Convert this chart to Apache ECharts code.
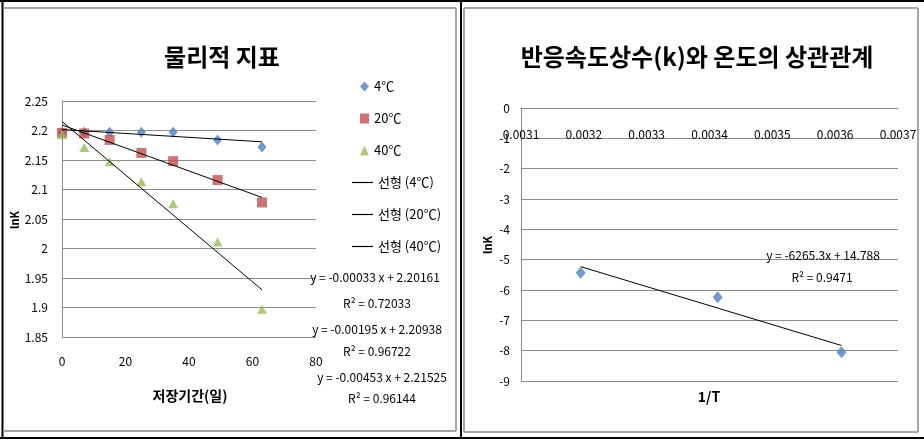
<!DOCTYPE html>
<html><head><meta charset="utf-8">
<script src="https://cdn.jsdelivr.net/npm/echarts@6/dist/echarts.min.js"></script>
<style>html,body{margin:0;padding:0;background:#fff}#c{width:924px;height:443px}</style>
</head><body><div id="c"></div>
<script>
// ---- Left chart data ----
const days = [0, 7, 15, 25, 35, 49, 63];
const lnK4 = [2.197, 2.197, 2.197, 2.197, 2.197, 2.184, 2.172];
const lnK20 = [2.196, 2.195, 2.184, 2.162, 2.148, 2.116, 2.078];
const lnK40 = [2.193, 2.171, 2.147, 2.113, 2.076, 2.011, 1.897];
const trendX = [0, 63];
const trend4 = [2.2016, 2.1808];
const trend20 = [2.2094, 2.0865];
const trend40 = [2.2153, 1.9299];
const leftYTicks = [1.85, 2.25, 0.05];
const leftXTicks = [0, 80, 20];
const markerNames = ['4℃', '20℃', '40℃'];
const trendNames = ['선형 (4℃)', '선형 (20℃)', '선형 (40℃)'];
const eqLeft = ['y = -0.00033 x + 2.20161', 'R² = 0.72033', 'y = -0.00195 x + 2.20938', 'R² = 0.96722', 'y = -0.00453 x + 2.21525', 'R² = 0.96144'];
// ---- Right chart data ----
const invT = [0.003195, 0.003413, 0.003610];
const lnK = [-5.43, -6.24, -8.05];
const trendRX = [0.003195, 0.003610];
const trendRY = [-5.23, -7.83];
const rightXTicks = [0.0031, 0.0037, 0.0001];
const rightYTicks = [-9, 0, 1];
const eqRight = ['y = -6265.3x + 14.788', 'R² = 0.9471'];

const FONT = '"Noto Sans CJK KR","Noto Sans",sans-serif';
const GRID = '#8c8c8c';
const zip = (xs, ys) => xs.map((x, i) => [x, ys[i]]);

const chart = echarts.init(document.getElementById('c'));
const txt = (x, y, s, o) => ({type: 'text', x: x, y: y, z: 20, style: Object.assign({text: s, font: '12px ' + FONT, fill: '#000', align: 'center', verticalAlign: 'middle'}, o || {})});
const ln = (x1, y1, x2, y2, c, w) => ({type: 'line', shape: {x1, y1, x2, y2}, style: {stroke: c, lineWidth: w}, z: 10});

const graphics = [
  // frames
  ln(0, 1, 924, 1, '#000', 2),
  ln(0, 438, 924, 438, '#000', 2),
  ln(2.5, 0, 2.5, 439, '#000', 2),
  ln(461, 0, 461, 439, '#000', 2),
  ln(3, 8, 456, 8, '#a6a6a6', 2),
  ln(456, 8, 456, 431, '#a6a6a6', 2),
  ln(3, 431, 456, 431, '#a6a6a6', 2),
  ln(464, 8, 918, 8, '#a6a6a6', 2),
  ln(464, 8, 464, 432, '#a6a6a6', 2),
  ln(464, 432, 918, 432, '#a6a6a6', 2),
  ln(918, 8, 918, 432, '#a6a6a6', 2),
  // titles
  txt(222, 57, '물리적 지표', {font: 'bold 24px ' + FONT}),
  txt(697, 57, '반응속도상수(k)와 온도의 상관관계', {font: 'bold 24px ' + FONT}),
  // axis names
  txt(190, 396, '저장기간(일)', {font: 'bold 14px ' + FONT}),
  Object.assign(txt(0, 0, 'lnK', {font: 'bold 11px ' + FONT}), {x: 15, y: 220, rotation: Math.PI / 2}),
  txt(709, 397, '1/T', {font: 'bold 14px ' + FONT}),
  Object.assign(txt(0, 0, 'lnK', {font: 'bold 11px ' + FONT}), {x: 488, y: 245, rotation: Math.PI / 2}),
  // equations
  txt(375, 277, eqLeft[0]),
  txt(377, 303, eqLeft[1]),
  txt(377, 329, eqLeft[2]),
  txt(377, 351, eqLeft[3]),
  txt(382, 377, eqLeft[4]),
  txt(382, 398, eqLeft[5]),
  txt(823, 255, eqRight[0]),
  txt(822, 277, eqRight[1])
];

const axisLbl = {color: '#000', fontSize: 12, fontFamily: FONT};
const trendStyle = {color: '#000', width: 1};
const lineIcon = 'path://M0,0L21,0L21,1.2L0,1.2Z';

chart.setOption({
  animation: false,
  grid: [
    {left: 62, top: 101, width: 254, height: 236},
    {left: 521, top: 108, width: 377, height: 273}
  ],
  xAxis: [
    {gridIndex: 0, type: 'value', min: leftXTicks[0], max: leftXTicks[1], interval: leftXTicks[2],
     axisLine: {show: false}, axisTick: {show: false}, splitLine: {show: false},
     axisLabel: Object.assign({margin: 18}, axisLbl)},
    {gridIndex: 1, type: 'value', position: 'top', min: rightXTicks[0], max: rightXTicks[1], interval: rightXTicks[2],
     axisLine: {show: true, onZero: false, lineStyle: {color: GRID}}, axisTick: {show: false}, splitLine: {show: false},
     axisLabel: Object.assign({inside: true, margin: 20, formatter: v => v.toFixed(4)}, axisLbl)}
  ],
  yAxis: [
    {gridIndex: 0, type: 'value', min: leftYTicks[0], max: leftYTicks[1], interval: leftYTicks[2],
     axisLine: {show: true, lineStyle: {color: GRID}}, axisTick: {show: false},
     splitLine: {show: true, lineStyle: {color: GRID, width: 1}},
     axisLabel: Object.assign({margin: 14}, axisLbl)},
    {gridIndex: 1, type: 'value', min: rightYTicks[0], max: rightYTicks[1], interval: rightYTicks[2],
     axisLine: {show: true, onZero: false, lineStyle: {color: GRID}}, axisTick: {show: false},
     splitLine: {show: true, lineStyle: {color: GRID, width: 1}},
     axisLabel: Object.assign({margin: 11}, axisLbl)}
  ],
  legend: [
    {left: 355, top: 75, orient: 'vertical', itemWidth: 9, itemHeight: 10, itemGap: 19,
     textStyle: {fontSize: 13, fontFamily: FONT, color: '#000'},
     data: markerNames},
    {left: 347, top: 171, orient: 'vertical', itemWidth: 21, itemHeight: 10, itemGap: 19,
     textStyle: {fontSize: 13, fontFamily: FONT, color: '#000'},
     data: trendNames.map(n => ({name: n, icon: lineIcon}))}
  ],
  series: [
    {name: trendNames[0], type: 'line', xAxisIndex: 0, yAxisIndex: 0, data: zip(trendX, trend4), symbol: 'none', lineStyle: trendStyle, itemStyle: {color: '#000'}, z: 3},
    {name: trendNames[1], type: 'line', xAxisIndex: 0, yAxisIndex: 0, data: zip(trendX, trend20), symbol: 'none', lineStyle: trendStyle, itemStyle: {color: '#000'}, z: 3},
    {name: trendNames[2], type: 'line', xAxisIndex: 0, yAxisIndex: 0, data: zip(trendX, trend40), symbol: 'none', lineStyle: trendStyle, itemStyle: {color: '#000'}, z: 3},
    {name: markerNames[0], type: 'scatter', xAxisIndex: 0, yAxisIndex: 0, data: zip(days, lnK4), symbol: 'diamond', symbolSize: [9, 11], itemStyle: {color: '#4F81BD'}, z: 2},
    {name: markerNames[1], type: 'scatter', xAxisIndex: 0, yAxisIndex: 0, data: zip(days, lnK20), symbol: 'rect', symbolSize: [10, 10], itemStyle: {color: '#C0504D'}, z: 2},
    {name: markerNames[2], type: 'scatter', xAxisIndex: 0, yAxisIndex: 0, data: zip(days, lnK40), symbol: 'triangle', symbolSize: [10, 9], itemStyle: {color: '#9BBB59'}, z: 2},
    {name: 'lnK', type: 'scatter', xAxisIndex: 1, yAxisIndex: 1, data: zip(invT, lnK), symbol: 'diamond', symbolSize: [10, 12], itemStyle: {color: '#4F81BD'}, z: 2},
    {name: 'trendR', type: 'line', xAxisIndex: 1, yAxisIndex: 1, data: zip(trendRX, trendRY), symbol: 'none', lineStyle: trendStyle, z: 3}
  ],
  graphic: graphics
});
</script>
</body></html>
